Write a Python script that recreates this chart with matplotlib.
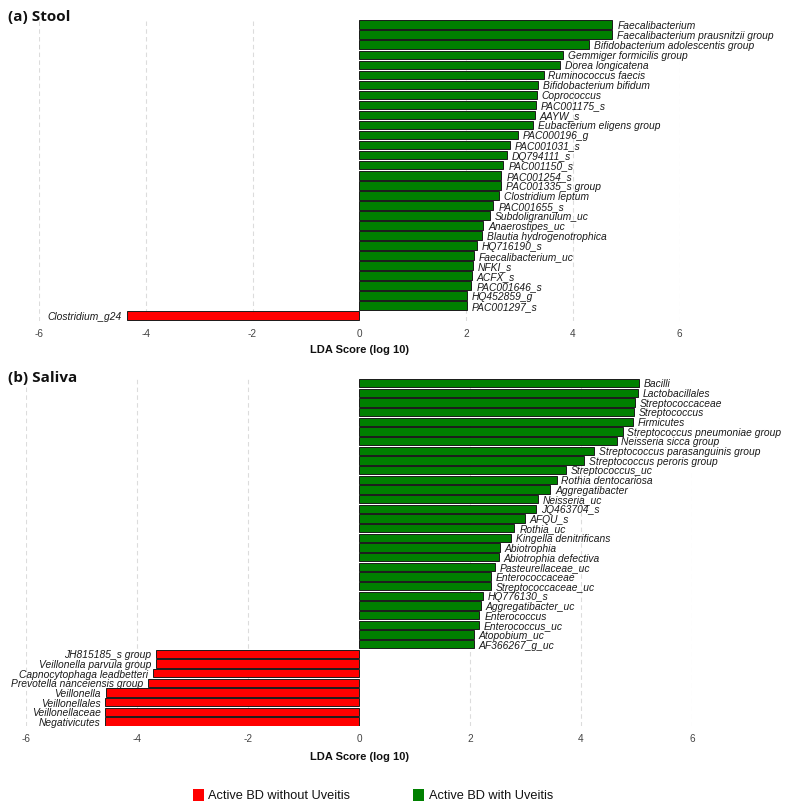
import matplotlib
matplotlib.use("Agg")
import matplotlib.pyplot as plt
from matplotlib.patches import Rectangle

# ---------------- data ----------------
stool_taxa = [
    "Faecalibacterium", "Faecalibacterium prausnitzii group", "Bifidobacterium adolescentis group",
    "Gemmiger formicilis group", "Dorea longicatena", "Ruminococcus faecis", "Bifidobacterium bifidum",
    "Coprococcus", "PAC001175_s", "AAYW_s", "Eubacterium eligens group", "PAC000196_g", "PAC001031_s",
    "DQ794111_s", "PAC001150_s", "PAC001254_s", "PAC001335_s group", "Clostridium leptum",
    "PAC001655_s", "Subdoligranulum_uc", "Anaerostipes_uc", "Blautia hydrogenotrophica",
    "HQ716190_s", "Faecalibacterium_uc", "NFKI_s", "ACFX_s", "PAC001646_s", "HQ452859_g",
    "PAC001297_s", "Clostridium_g24",
]
stool_lda = [
    4.74, 4.73, 4.31, 3.82, 3.76, 3.45, 3.35, 3.32, 3.30, 3.29, 3.25, 2.97, 2.82, 2.77, 2.70,
    2.66, 2.66, 2.61, 2.51, 2.44, 2.32, 2.30, 2.21, 2.15, 2.13, 2.11, 2.10, 2.01, 2.01, -4.35,
]

saliva_taxa = [
    "Bacilli", "Lactobacillales", "Streptococcaceae", "Streptococcus", "Firmicutes",
    "Streptococcus pneumoniae group", "Neisseria sicca group", "Streptococcus parasanguinis group",
    "Streptococcus peroris group", "Streptococcus_uc", "Rothia dentocariosa", "Aggregatibacter",
    "Neisseria_uc", "JQ463704_s", "AFQU_s", "Rothia_uc", "Kingella denitrificans", "Abiotrophia",
    "Abiotrophia defectiva", "Pasteurellaceae_uc", "Enterococcaceae", "Streptococcaceae_uc",
    "HQ776130_s", "Aggregatibacter_uc", "Enterococcus", "Enterococcus_uc", "Atopobium_uc",
    "AF366267_g_uc", "JH815185_s group", "Veillonella parvula group", "Capnocytophaga leadbetteri",
    "Prevotella nanceiensis group", "Veillonella", "Veillonellales", "Veillonellaceae", "Negativicutes",
]
saliva_lda = [
    5.05, 5.03, 4.97, 4.96, 4.94, 4.75, 4.64, 4.23, 4.05, 3.73, 3.56, 3.45, 3.23, 3.19, 2.99,
    2.80, 2.74, 2.54, 2.52, 2.45, 2.38, 2.37, 2.23, 2.20, 2.17, 2.16, 2.07, 2.07,
    -3.65, -3.65, -3.72, -3.80, -4.56, -4.57, -4.57, -4.58,
]

x_ticks = [-6, -4, -2, 0, 2, 4, 6]
grid_lines = [-6, -4, -2, 2, 4, 6]
group_labels = ["Active BD without Uveitis", "Active BD with Uveitis"]
group_colors = ["#FF0000", "#008000"]
panel_titles = ["(a) Stool", "(b) Saliva"]
xlabel_text = "LDA Score (log 10)"

# ---------------- figure ----------------
W, H = 793, 812
fig = plt.figure(figsize=(W / 100, H / 100), dpi=100)
fig.patch.set_facecolor("white")


def px_axes(left, top, right, bottom):
    return fig.add_axes([left / W, 1 - bottom / H, (right - left) / W, (bottom - top) / H])


def draw_panel(ax, taxa, vals):
    n = len(taxa)
    ypos = list(range(n))
    colors = [group_colors[1] if v > 0 else group_colors[0] for v in vals]
    ax.barh(ypos, vals, height=0.86, color=colors, edgecolor="#1a1a1a", linewidth=0.7, zorder=3)
    for y, v, t in zip(ypos, vals, taxa):
        off = 3.5 if v > 0 else -3.5
        ax.annotate(t, (v, y), xytext=(off, -0.3), textcoords="offset points",
                    ha="left" if v > 0 else "right", va="center", fontsize=7.35,
                    fontstyle="italic", family="Liberation Sans", color="#1a1a1a",
                    annotation_clip=False)
    for g in grid_lines:
        ax.axvline(g, color="#dcdcdc", linestyle=(0, (4, 3)), linewidth=0.8, zorder=1)
    ax.set_xlim(-6, 6)
    ax.set_ylim(n - 0.5, -0.5)
    ax.set_yticks([])
    ax.set_xticks(x_ticks)
    ax.set_xticklabels([str(t) for t in x_ticks], family="Liberation Sans", fontsize=7.2,
                       color="#444444")
    ax.tick_params(axis="x", length=0, pad=5)
    for s in ax.spines.values():
        s.set_visible(False)
    ax.set_facecolor("none")


# top panel
ax1 = px_axes(38.9, 20.7, 679.7, 321.7)
draw_panel(ax1, stool_taxa, stool_lda)
# bottom panel
ax2 = px_axes(26.0, 379.2, 692.0, 727.3)
draw_panel(ax2, saliva_taxa, saliva_lda)

# axis labels
fig.text(360 / W, 1 - 350 / H, xlabel_text, ha="center", va="center", fontsize=8,
         fontweight="bold", family="Liberation Sans", color="#111111")
fig.text(359 / W, 1 - 757 / H, xlabel_text, ha="center", va="center", fontsize=8,
         fontweight="bold", family="Liberation Sans", color="#111111")

# panel titles
for title, yc in zip(panel_titles, [17, 378]):
    fig.text(8 / W, 1 - yc / H, title, ha="left", va="center", fontsize=11,
             fontweight="bold", family=["Open Sans", "DejaVu Sans"], color="#111111")

# legend
leg_items = [(193, 208), (413, 429)]
for (sx, tx), lab, col in zip(leg_items, group_labels, group_colors):
    fig.patches.append(Rectangle((sx / W, 1 - 801.5 / H), 10.5 / W, 11.5 / H,
                                 transform=fig.transFigure, facecolor=col, edgecolor="none"))
    fig.text(tx / W, 1 - 796 / H, lab, ha="left", va="center", fontsize=9.2,
             family="Liberation Sans", color="#111111")

fig.savefig("out.png", dpi=100, facecolor="white")
